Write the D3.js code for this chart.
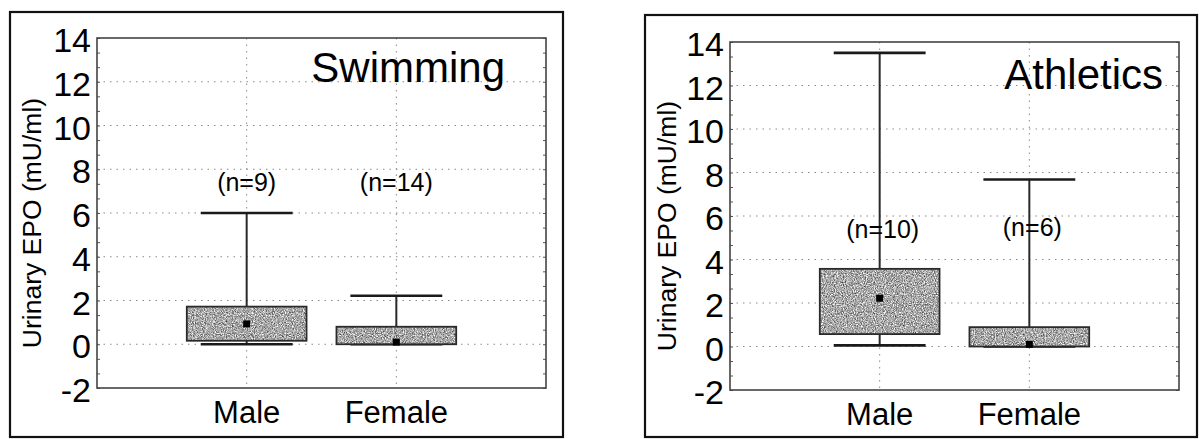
<!DOCTYPE html>
<html>
<head>
<meta charset="utf-8">
<script src="https://cdn.jsdelivr.net/npm/d3@7"></script>
<style>
  body { margin: 0; background: #fff; }
  svg { display: block; font-family: 'Liberation Sans', Arial, sans-serif; }
  .grid line { stroke: #8a8a8a; stroke-width: 1; stroke-dasharray: 1.5 5; }
</style>
</head>
<body>
<svg width="1200" height="439"></svg>
<script>
(function(d3) {
  'use strict';

  // Values.
  const sports = ['Swimming', 'Athletics'];
  const groups = ['Male', 'Female'];
  const nCounts = [[9, 14], [10, 6]];
  const whiskerLow = [[0.0, 0.0], [0.05, 0.0]];
  const boxLow = [[0.16, 0.0], [0.57, 0.0]];
  const centerValue = [[0.93, 0.1], [2.22, 0.1]];
  const boxHigh = [[1.72, 0.8], [3.57, 0.89]];
  const whiskerHigh = [[6.0, 2.22], [13.5, 7.68]];
  const yTicks = [-2, 0, 2, 4, 6, 8, 10, 12, 14];
  const yLabel = 'Urinary EPO (mU/ml)';

  // Panel placement on the page.
  const layout = [
    {outer: [10, 12, 563, 437], plot: [97, 38, 546, 388], titleRight: 41, nY: 7.0},
    {outer: [645, 15, 1197, 437], plot: [730, 42, 1179, 390], titleRight: 16, nY: 5.0},
  ];

  const svg = d3.select('svg');

  // stipple texture for the boxes
  const filter = svg.append('defs').append('filter').
      attr('id', 'grain').
      attr('color-interpolation-filters', 'sRGB');
  filter.append('feTurbulence').
      attr('type', 'fractalNoise').
      attr('baseFrequency', 0.9).
      attr('numOctaves', 2).
      attr('seed', 3).
      attr('result', 'noise');
  filter.append('feColorMatrix').
      attr('in', 'noise').
      attr('type', 'matrix').
      attr('values', '1.2 0 0 0 0.06  1.2 0 0 0 0.06  1.2 0 0 0 0.06  0 0 0 0 1').
      attr('result', 'gray');
  filter.append('feComposite').
      attr('in', 'gray').
      attr('in2', 'SourceGraphic').
      attr('operator', 'in');

  sports.forEach(function(sport, si) {
    const L = layout[si];
    const g = svg.append('g');

    const xScale = d3.scaleLinear().domain([0, 3]).range([L.plot[0], L.plot[2]]);
    const yScale = d3.scaleLinear().domain([-2, 14]).range([L.plot[3], L.plot[1]]);
    const xPos = function(i) {
      return xScale(i + 1);
    };
    const boxHalf = xScale(0.4) - xScale(0);
    const capHalf = xScale(0.307) - xScale(0);

    // outer frame
    g.append('rect').
        attr('x', L.outer[0]).
        attr('y', L.outer[1]).
        attr('width', L.outer[2] - L.outer[0]).
        attr('height', L.outer[3] - L.outer[1]).
        attr('fill', 'none').
        attr('stroke', '#111').
        attr('stroke-width', 2.2);

    // dotted grid
    const grid = g.append('g').attr('class', 'grid');
    grid.selectAll('line.h').
        data(yTicks.filter(function(t) {
          return t > -2 && t < 14;
        })).
        enter().append('line').
        attr('class', 'h').
        attr('x1', L.plot[0]).
        attr('x2', L.plot[2]).
        attr('y1', function(d) {
          return yScale(d);
        }).
        attr('y2', function(d) {
          return yScale(d);
        });
    grid.selectAll('line.v').
        data(groups).
        enter().append('line').
        attr('class', 'v').
        attr('x1', function(d, i) {
          return xPos(i);
        }).
        attr('x2', function(d, i) {
          return xPos(i);
        }).
        attr('y1', L.plot[1]).
        attr('y2', L.plot[3]);

    // minor inward ticks on both vertical sides
    const minorTicks = d3.range(-2, 14.01, 2 / 3);
    g.append('g').
        attr('transform', `translate(${L.plot[0]},0)`).
        call(d3.axisRight(yScale).tickValues(minorTicks).tickSize(3).tickFormat('')).
        call(function(a) {
          a.select('.domain').remove();
          a.selectAll('line').attr('stroke', '#555');
        });
    g.append('g').
        attr('transform', `translate(${L.plot[2]},0)`).
        call(d3.axisLeft(yScale).tickValues(minorTicks).tickSize(3).tickFormat('')).
        call(function(a) {
          a.select('.domain').remove();
          a.selectAll('line').attr('stroke', '#555');
        });

    // plot frame
    g.append('rect').
        attr('x', L.plot[0]).
        attr('y', L.plot[1]).
        attr('width', L.plot[2] - L.plot[0]).
        attr('height', L.plot[3] - L.plot[1]).
        attr('fill', 'none').
        attr('stroke', '#444').
        attr('stroke-width', 1.6);

    // y tick labels (plain hyphen for negatives, as in the original)
    g.append('g').
        attr('transform', `translate(${L.plot[0]},0)`).
        call(d3.axisLeft(yScale).tickValues(yTicks).tickSize(0).tickPadding(6).
            tickFormat(function(d) {
              return String(d);
            })).
        call(function(a) {
          a.select('.domain').remove();
          a.attr('font-family', null).attr('font-size', 34);
          a.selectAll('text').attr('dy', '0.4em').attr('fill', '#000');
        });

    // y label
    g.append('text').
        attr('transform', `translate(${L.outer[0] + 31},${(L.plot[1] + L.plot[3]) / 2 + 10}) rotate(-90)`).
        attr('text-anchor', 'middle').
        attr('font-size', 26.5).
        text(yLabel);

    // category labels
    g.selectAll('text.cat').
        data(groups).
        enter().append('text').
        attr('class', 'cat').
        attr('x', function(d, i) {
          return xPos(i);
        }).
        attr('y', L.plot[3] + 35).
        attr('text-anchor', 'middle').
        attr('font-size', 31).
        text(function(d) {
          return d;
        });

    // title
    g.append('text').
        attr('x', L.plot[2] - L.titleRight).
        attr('y', yScale(12) + (si === 0 ? 0 : 3)).
        attr('text-anchor', 'end').
        attr('font-size', 42).
        text(sport);

    // box plots
    groups.forEach(function(grp, gi) {
      const cx = xPos(gi);
      const bg = g.append('g');
      const wStroke = '#2a2a2a';

      bg.append('line').
          attr('x1', cx).attr('x2', cx).
          attr('y1', yScale(whiskerHigh[si][gi])).
          attr('y2', yScale(boxHigh[si][gi])).
          attr('stroke', wStroke).attr('stroke-width', 2);
      bg.append('line').
          attr('x1', cx).attr('x2', cx).
          attr('y1', yScale(boxLow[si][gi])).
          attr('y2', yScale(whiskerLow[si][gi])).
          attr('stroke', wStroke).attr('stroke-width', 2);
      [whiskerHigh[si][gi], whiskerLow[si][gi]].forEach(function(v) {
        bg.append('line').
            attr('x1', cx - capHalf).attr('x2', cx + capHalf).
            attr('y1', yScale(v)).attr('y2', yScale(v)).
            attr('stroke', '#1a1a1a').attr('stroke-width', 2.6);
      });

      const by = yScale(boxHigh[si][gi]);
      const bh = yScale(boxLow[si][gi]) - by;
      bg.append('rect').
          attr('x', cx - boxHalf).attr('y', by).
          attr('width', boxHalf * 2).attr('height', bh).
          attr('fill', '#a8a8a8').
          attr('filter', 'url(#grain)');
      bg.append('rect').
          attr('x', cx - boxHalf).attr('y', by).
          attr('width', boxHalf * 2).attr('height', bh).
          attr('fill', 'none').
          attr('stroke', '#2a2a2a').attr('stroke-width', 1.8);

      bg.append('rect').
          attr('x', cx - 3.5).
          attr('y', yScale(centerValue[si][gi]) - 3.5).
          attr('width', 7).attr('height', 7).
          attr('fill', '#000');

      bg.append('text').
          attr('x', cx + (si === 0 ? 0 : 3)).
          attr('y', yScale(L.nY + (si === 1 && gi === 1 ? 0.1 : 0))).
          attr('text-anchor', 'middle').
          attr('font-size', 25).
          text(`(n=${nCounts[si][gi]})`);
    });
  });
}(d3));
</script>
</body>
</html>
